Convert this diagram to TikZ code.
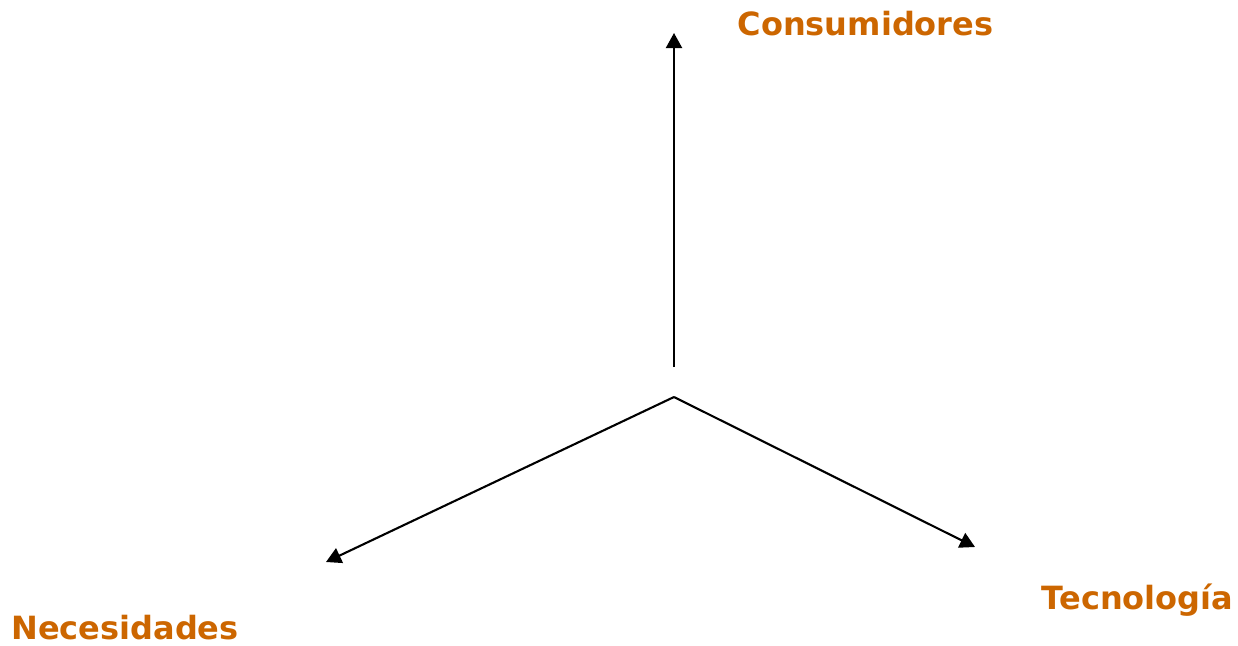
\documentclass[tikz,border=0pt]{standalone}
\usepackage{fontspec}
\setmainfont{DejaVu Sans}
\usetikzlibrary{arrows.meta}
\definecolor{labelorange}{HTML}{CC6600}
\begin{document}
\begin{tikzpicture}[x=1pt,y=-1pt,
  axis/.style={line width=2.1pt,-{Triangle[width=16pt,length=15pt]}},
  lbl/.style={text=labelorange,font=\fontsize{32}{36}\selectfont\bfseries,anchor=base,inner sep=0pt}]
\useasboundingbox (0,0) rectangle (1238,645);
\coordinate (vstart) at (674,367);
\coordinate (vend) at (674,33);
\coordinate (center) at (674,397);
\coordinate (lend) at (326,562);
\coordinate (rend) at (975,547);
\node[lbl] (cons) at (865.5,35) {Consumidores};
\node[lbl] (nec) at (125,639) {Necesidades};
\node[lbl] (tec) at (1137.5,609) {Tecnología};
\draw[axis] (vstart) -- (vend);
\draw[axis] (center) -- (lend);
\draw[axis] (center) -- (rend);
\end{tikzpicture}
\end{document}
